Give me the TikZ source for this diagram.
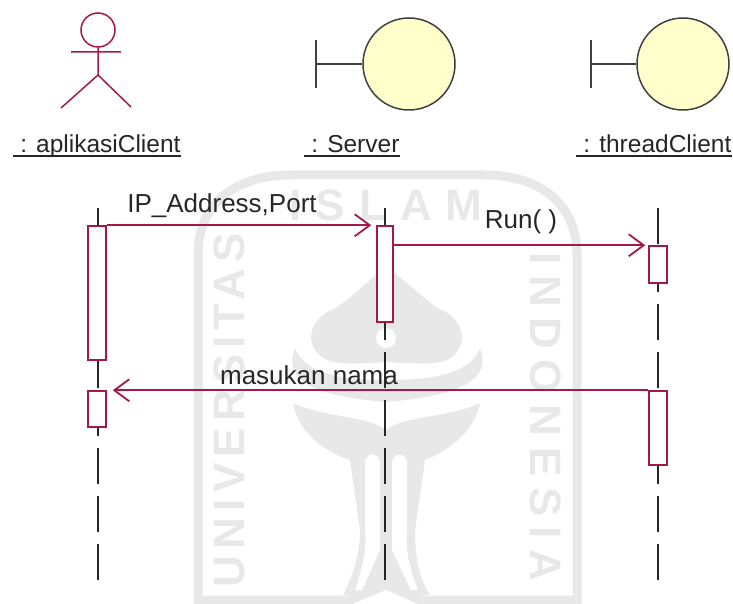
\documentclass[tikz,border=0pt]{standalone}
\usepackage{fontspec}
\setmainfont{Liberation Sans}
\usetikzlibrary{arrows.meta,positioning}
\definecolor{umlred}{RGB}{165,25,70}
\definecolor{umlyel}{RGB}{255,255,204}
\definecolor{wmgray}{RGB}{232,232,232}
\tikzset{>={Straight Barb[width=22pt,length=15pt]}}

\begin{document}
\begin{tikzpicture}[x=1pt,y=-1pt]
          \tikzstyle{aktbox} = [draw=umlred, fill=white, line width=1.5pt, inner sep=0pt, minimum width=18pt]
          \tikzstyle{lblnode} = [font=\fontsize{24.5}{24.5}\selectfont, text=black!85, inner sep=0pt, anchor=base]
          \tikzstyle{msglbl} = [font=\fontsize{26}{26}\selectfont, text=black!85, inner sep=0pt, anchor=base]
          \tikzstyle{bndnode} = [circle, draw=black!75, fill=umlyel, line width=1.5pt, minimum size=92pt, inner sep=0pt]
          \tikzstyle{msgline} = [->, draw=umlred, line width=1.8pt]
          \tikzstyle{lifeline} = [draw=black!85, line width=1.5pt, dash pattern=on 36pt off 12pt]
          \tikzstyle{wmtext} = [text=wmgray, inner sep=0pt, font=\fontsize{44}{44}\selectfont\bfseries]

          \useasboundingbox (0,0) rectangle (733,604);

          % watermark
          \draw[wmgray, line width=9pt] (198,600) -- (198,255) .. controls (198,200) and (240,175) .. (290,175) -- (485,175) .. controls (535,175) and (577,200) .. (577,255) -- (577,600) -- (420,600) -- (386,585) -- (350,600) -- cycle;
          \node[wmtext, rotate=90] (wmleft) at (229,410) {\addfontfeatures{LetterSpace=14}UNIVERSITAS};
          \node[wmtext] (wmtop) at (386,205) {\addfontfeatures{LetterSpace=32}ISLAM};
          \node[wmtext, rotate=-90] (wmright) at (546,417) {\addfontfeatures{LetterSpace=24}INDONESIA};
          % crown, wings, bowl with trunk
          \fill[wmgray] (386,265) .. controls (365,285) and (350,298) .. (336,308) .. controls (315,315) and (305,335) .. (315,350) .. controls (325,365) and (345,365) .. (386,362) .. controls (430,365) and (450,365) .. (458,350) .. controls (468,335) and (458,315) .. (437,308) .. controls (425,298) and (408,285) .. (386,265) -- cycle;
          \fill[wmgray] (295,348) .. controls (285,375) and (300,395) .. (386,402) .. controls (472,395) and (490,375) .. (480,348) .. controls (470,375) and (430,380) .. (386,380) .. controls (345,380) and (305,375) .. (295,348) -- cycle;
          \fill[wmgray] (293,403) .. controls (298,430) and (320,450) .. (350,460) -- (360,530) .. controls (360,560) and (350,580) .. (343,595) -- (370,595) -- (386,585) -- (402,595) -- (430,595) .. controls (420,580) and (415,560) .. (415,530) -- (425,460) .. controls (450,450) and (475,430) .. (480,403) .. controls (450,418) and (405,415) .. (386,430) .. controls (365,415) and (325,418) .. (293,403) -- cycle;
          \fill[white] (386,338) circle (10pt);
          \fill[white] (365,462) .. controls (367,452) and (378,452) .. (380,462) -- (380,550) -- (362,590) -- (355,590) .. controls (362,570) and (367,550) .. (365,530) -- cycle;
          \fill[white] (392,462) .. controls (394,452) and (405,452) .. (407,462) -- (407,530) .. controls (405,550) and (410,570) .. (418,590) -- (411,590) -- (392,550) -- cycle;

          % lifelines
          \coordinate (lltop1) at (98,208);
          \coordinate (llbot1) at (98,581);
          \coordinate (lltop2) at (385,208);
          \coordinate (llbot2) at (385,581);
          \coordinate (lltop3) at (658,208);
          \coordinate (llbot3) at (658,581);
          \draw[lifeline] (lltop1) -- (llbot1);
          \draw[lifeline] (lltop2) -- (llbot2);
          \draw[lifeline] (lltop3) -- (llbot3);

          % actor
          \node[circle, draw=umlred, line width=1.5pt, minimum size=34pt, inner sep=0pt] (head) at (98,30) {};
          \coordinate (hip) at (98,75);
          \coordinate (armL) at (71,52);
          \coordinate (armR) at (121,52);
          \coordinate (legL) at (61,108);
          \coordinate (legR) at (131,107);
          \draw[umlred, line width=1.5pt] (head) -- (hip) (armL) -- (armR) (legL) -- (hip) -- (legR);

          % boundaries
          \node[bndnode] (srv) at (409,64) {};
          \node[bndnode] (thr) at (683,64) {};
          \coordinate (srvbar) at (316,64);
          \coordinate (thrbar) at (591,64);
          \draw[black!75, line width=1.5pt] (srvbar) -- (srv) ([yshift=-24pt]srvbar) -- ([yshift=24pt]srvbar);
          \draw[black!75, line width=1.5pt] (thrbar) -- (thr) ([yshift=-24pt]thrbar) -- ([yshift=24pt]thrbar);

          % labels
          \node[lblnode] (lclient) at (97,153) {\ : aplikasiClient};
          \node[lblnode] (lserver) at (352,153) {\ : Server};
          \node[lblnode] (lthread) at (654,153) {\ : threadClient};
          \draw[black!85, line width=1.3pt] ([yshift=-3pt]lclient.base west) -- ([yshift=-3pt]lclient.base east);
          \draw[black!85, line width=1.3pt] ([yshift=-3pt]lserver.base west) -- ([yshift=-3pt]lserver.base east);
          \draw[black!85, line width=1.3pt] ([yshift=-3pt]lthread.base west) -- ([yshift=-3pt]lthread.base east);

          % activations
          \node[aktbox, minimum height=134pt] (akt1) at (97,293) {};
          \node[aktbox, minimum height=36pt] (akt2) at (97,409) {};
          \node[aktbox, minimum height=96pt, minimum width=16pt] (akt3) at (385,274) {};
          \node[aktbox, minimum height=37pt] (akt4) at (658,264.5) {};
          \node[aktbox, minimum height=74pt] (akt5) at (658,428) {};

          % messages
          \draw[msgline, shorten >=5pt] (akt1.north east) -- (akt3.north west);
          \draw[msgline, shorten >=3pt] (akt3.east |- akt4.north) -- (akt4.north west);
          \draw[msgline, shorten >=6pt] (akt5.north west) -- (akt2.north east);

          \node[msglbl] (lip) at (222,212) {IP\_Address,Port};
          \node[msglbl] (lrun) at (521,228) {Run( )};
          \node[msglbl] (lnama) at (309,384) {masukan nama};
        \end{tikzpicture}
\end{document}
